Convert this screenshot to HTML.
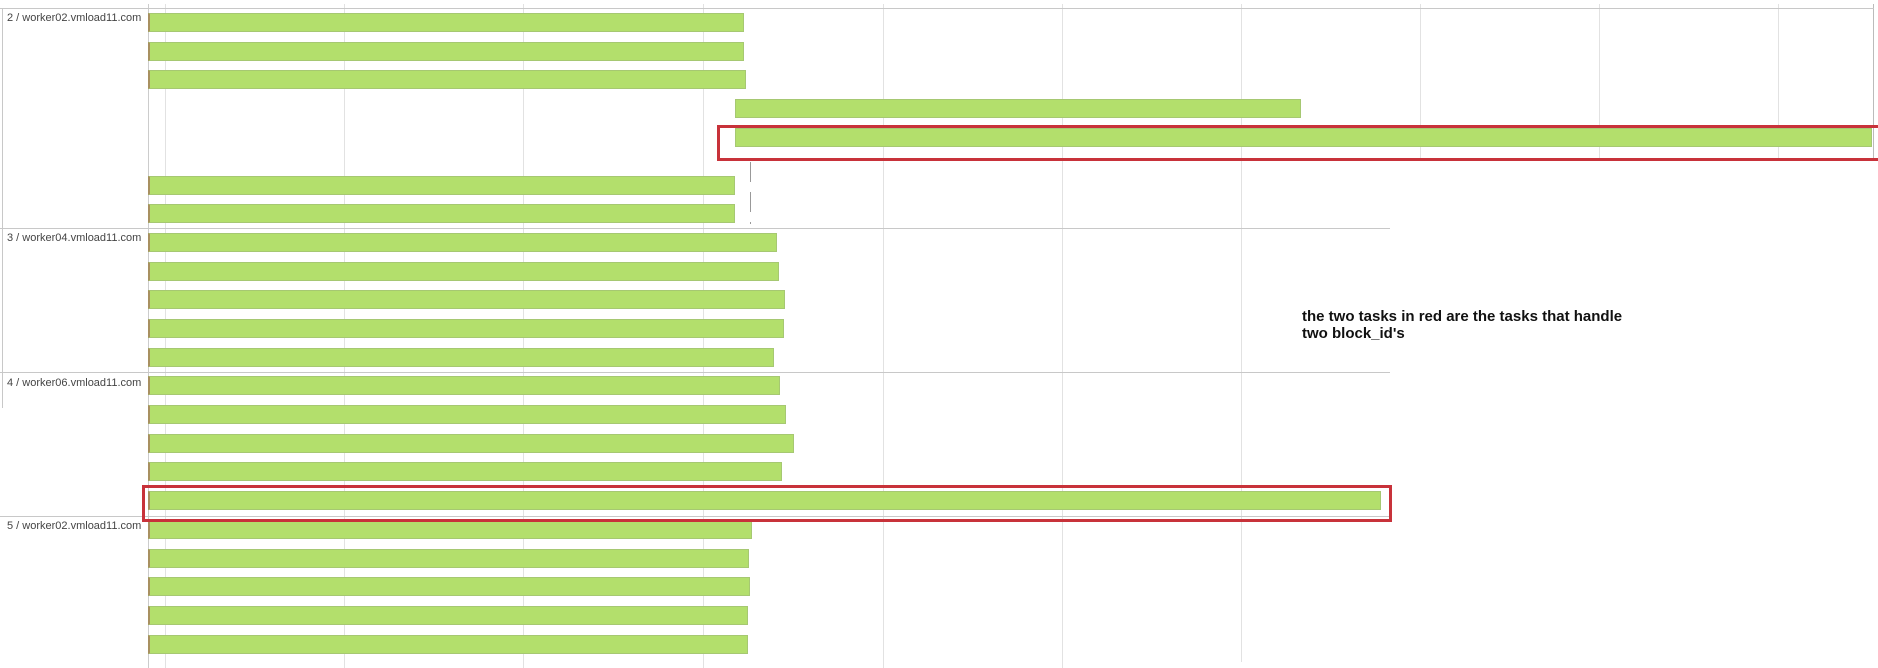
<!DOCTYPE html>
<html><head><style>
body{margin:0;width:1878px;height:668px;position:relative;background:#fff;overflow:hidden;font-family:"Liberation Sans",Arial,sans-serif}
div{position:absolute}
.g{width:1px;background:#e2e2e2}
.h{height:1px;background:#c8c8c8}
.b{height:19px;background:#b3df6c;border:1px solid #a6c872;box-sizing:border-box;border-left:2px solid #a89060}
.l{font-size:11px;color:#444;left:7px}
.r{border:3px solid #c8323a;box-sizing:border-box}
</style></head><body>
<div class="g" style="left:165px;top:4px;height:664px"></div>
<div class="g" style="left:344px;top:4px;height:664px"></div>
<div class="g" style="left:523px;top:4px;height:664px"></div>
<div class="g" style="left:703px;top:4px;height:664px"></div>
<div class="g" style="left:883px;top:4px;height:664px"></div>
<div class="g" style="left:1062px;top:4px;height:664px"></div>
<div class="g" style="left:1241px;top:4px;height:658px"></div>
<div class="g" style="left:1420px;top:4px;height:156px"></div>
<div class="g" style="left:1599px;top:4px;height:156px"></div>
<div class="g" style="left:1778px;top:4px;height:156px"></div>
<div style="left:1873px;top:4px;width:1px;height:156px;background:#bbb"></div>
<div style="left:148px;top:4px;width:1px;height:664px;background:#ccc"></div>
<div style="left:2px;top:8px;width:1px;height:400px;background:#c8c8c8"></div>
<div class="h" style="left:0;top:8px;width:1874px"></div>
<div class="h" style="left:0;top:228px;width:1390px"></div>
<div class="h" style="left:0;top:372px;width:1390px"></div>
<div class="h" style="left:0;top:516px;width:1390px"></div>
<div style="left:750px;top:162px;width:1px;height:62px;background:repeating-linear-gradient(#999 0 20px,transparent 20px 30px)"></div>
<div class="l" style="top:12px">2 / worker02.vmload11.com</div>
<div class="l" style="top:232px">3 / worker04.vmload11.com</div>
<div class="l" style="top:377px">4 / worker06.vmload11.com</div>
<div class="l" style="top:520px">5 / worker02.vmload11.com</div>
<div class="b" style="left:148px;top:13px;width:596px"></div>
<div class="b" style="left:148px;top:42px;width:596px"></div>
<div class="b" style="left:148px;top:70px;width:598px"></div>
<div class="b" style="left:735px;top:99px;width:566px;border-left:1px solid #a6c872"></div>
<div class="b" style="left:735px;top:128px;width:1137px;border-left:1px solid #a6c872"></div>
<div class="b" style="left:148px;top:176px;width:587px"></div>
<div class="b" style="left:148px;top:204px;width:587px"></div>
<div class="b" style="left:148px;top:233px;width:629px"></div>
<div class="b" style="left:148px;top:262px;width:631px"></div>
<div class="b" style="left:148px;top:290px;width:637px"></div>
<div class="b" style="left:148px;top:319px;width:636px"></div>
<div class="b" style="left:148px;top:348px;width:626px"></div>
<div class="b" style="left:148px;top:376px;width:632px"></div>
<div class="b" style="left:148px;top:405px;width:638px"></div>
<div class="b" style="left:148px;top:434px;width:646px"></div>
<div class="b" style="left:148px;top:462px;width:634px"></div>
<div class="b" style="left:148px;top:491px;width:1233px"></div>
<div class="b" style="left:148px;top:520px;width:604px"></div>
<div class="b" style="left:148px;top:549px;width:601px"></div>
<div class="b" style="left:148px;top:577px;width:602px"></div>
<div class="b" style="left:148px;top:606px;width:600px"></div>
<div class="b" style="left:148px;top:635px;width:600px"></div>
<div class="r" style="left:717px;top:125px;width:1165px;height:36px"></div>
<div class="r" style="left:142px;top:485px;width:1250px;height:37px"></div>
<div style="left:1302px;top:308px;font-size:15px;font-weight:bold;color:#111;line-height:17px">the two tasks in red are the tasks that handle<br>two block_id's</div>
</body></html>
